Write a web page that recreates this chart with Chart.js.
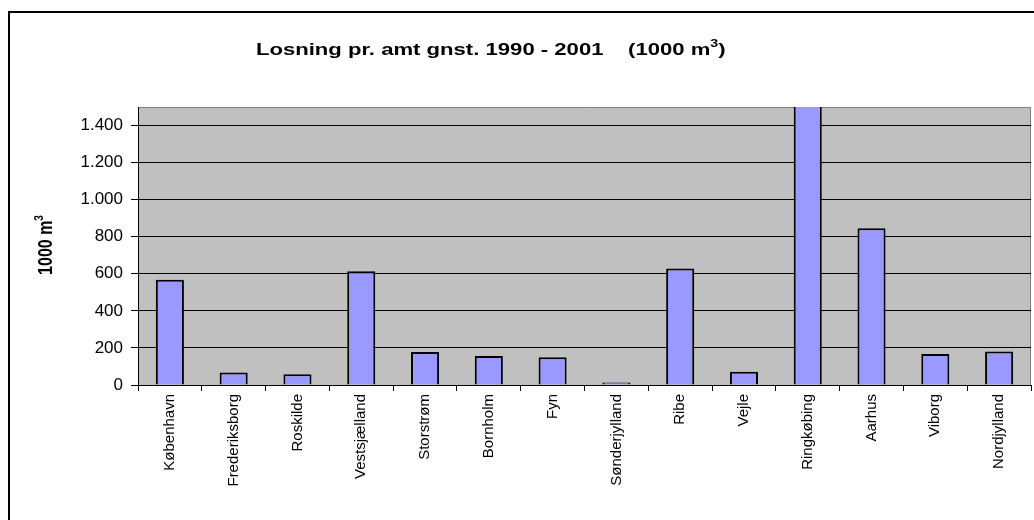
<!DOCTYPE html>
<html>
<head>
<meta charset="utf-8">
<script src="https://cdn.jsdelivr.net/npm/chart.js@4"></script>
<style>
  html, body { margin: 0; padding: 0; background: #fff; }
  #wrap { width: 1034px; height: 520px; }
</style>
</head>
<body>
<div id="wrap"><canvas id="losningChart" width="1034" height="520"></canvas></div>
<script>
// Losning pr. amt, gennemsnit 1990 - 2001 (1000 m3)
const categories = ['København', 'Frederiksborg', 'Roskilde', 'Vestsjælland', 'Storstrøm', 'Bornholm', 'Fyn',
    'Sønderjylland', 'Ribe', 'Vejle', 'Ringkøbing', 'Aarhus', 'Viborg', 'Nordjylland'];
const losning = [568, 67, 58, 614, 178, 157, 150, 13, 629, 72, 1600, 846, 167, 181];
const yTicks = [0, 200, 400, 600, 800, 1000, 1200, 1400];
const yMax = 1500;

const titleText = 'Losning pr. amt gnst. 1990 - 2001    (1000 m';
const yAxisText = '1000 m';
const FONT = "'Liberation Sans', Arial, sans-serif";
const STRETCH = 1.3; // the original text is drawn a bit wide

function formatDanish(v) {
    return String(v).replace(/\B(?=(\d{3})+(?!\d))/g, '.');
}

// background, frame and titles
const framePlugin = {
    id: 'frame',
    beforeDraw(chart) {
        const ctx = chart.ctx;
        const a = chart.chartArea;
        ctx.save();
        ctx.fillStyle = '#fff';
        ctx.fillRect(0, 0, chart.width, chart.height);
        ctx.strokeStyle = '#000';
        ctx.lineWidth = 2;
        ctx.strokeRect(9, 12, chart.width + 20, chart.height + 20);
        ctx.fillStyle = '#c0c0c0';
        ctx.fillRect(a.left, a.top, a.right - a.left, a.bottom - a.top);
        ctx.strokeStyle = '#808080';
        ctx.lineWidth = 1;
        ctx.beginPath();
        ctx.moveTo(a.left, a.top + 0.5);
        ctx.lineTo(a.right - 0.5, a.top + 0.5);
        ctx.lineTo(a.right - 0.5, a.bottom);
        ctx.stroke();
        ctx.restore();
    },
    afterDraw(chart) {
        const ctx = chart.ctx;
        ctx.save();
        ctx.fillStyle = '#000';
        ctx.textBaseline = 'alphabetic';
        // chart title with superscript 3
        ctx.font = 'bold 17px ' + FONT;
        const w = ctx.measureText(titleText).width;
        ctx.font = 'bold 11px ' + FONT;
        const w3 = ctx.measureText('3').width;
        ctx.translate(491, 55);
        ctx.scale(STRETCH, 1);
        const x0 = -(w + w3 + 6) / 2;
        ctx.font = 'bold 17px ' + FONT;
        ctx.fillText(titleText, x0, 0);
        ctx.font = 'bold 11px ' + FONT;
        ctx.fillText('3', x0 + w, -8);
        ctx.font = 'bold 17px ' + FONT;
        ctx.fillText(')', x0 + w + w3, 0);
        ctx.restore();

        // y axis title
        ctx.save();
        ctx.fillStyle = '#000';
        ctx.translate(52, 245);
        ctx.rotate(-Math.PI / 2);
        ctx.scale(1, STRETCH);
        ctx.font = 'bold 16px ' + FONT;
        const wy = ctx.measureText(yAxisText).width;
        ctx.font = 'bold 10px ' + FONT;
        const wy3 = ctx.measureText('3').width;
        const y0 = -(wy + wy3) / 2;
        ctx.font = 'bold 16px ' + FONT;
        ctx.fillText(yAxisText, y0, 0);
        ctx.font = 'bold 10px ' + FONT;
        ctx.fillText('3', y0 + wy, -7);
        ctx.restore();
    }
};

const ctx = document.getElementById('losningChart').getContext('2d');
const losningChart = new Chart(ctx, {
    type: 'bar',
    data: {
        labels: categories,
        datasets: [{
            data: losning,
            backgroundColor: '#9999ff',
            borderColor: '#000',
            borderWidth: 2,
            barPercentage: 0.44,
            categoryPercentage: 1
        }]
    },
    options: {
        responsive: false,
        animation: false,
        layout: {
            padding: { top: 107, right: 3, left: 0, bottom: 0 }
        },
        plugins: {
            legend: { display: false },
            tooltip: { enabled: false }
        },
        scales: {
            x: {
                afterFit: function(scale) { scale.height = 135; },
                grid: {
                    drawOnChartArea: false,
                    drawTicks: true,
                    tickLength: 6,
                    color: '#000',
                    offset: true
                },
                border: { color: '#000', width: 1 },
                ticks: {
                    color: '#000',
                    font: { family: FONT, size: 15 },
                    minRotation: 90,
                    maxRotation: 90,
                    autoSkip: false,
                    padding: 3
                }
            },
            y: {
                min: 0,
                max: yMax,
                afterFit: function(scale) { scale.width = 138; },
                afterBuildTicks: function(scale) {
                    scale.ticks = yTicks.map(v => ({ value: v }));
                },
                grid: {
                    color: '#000',
                    lineWidth: 1,
                    drawTicks: true,
                    tickLength: 7
                },
                border: { color: '#000', width: 1 },
                ticks: {
                    color: '#000',
                    font: { family: FONT, size: 17 },
                    padding: 8,
                    callback: function(v) { return formatDanish(v); }
                }
            }
        }
    },
    plugins: [framePlugin]
});
</script>
</body>
</html>
